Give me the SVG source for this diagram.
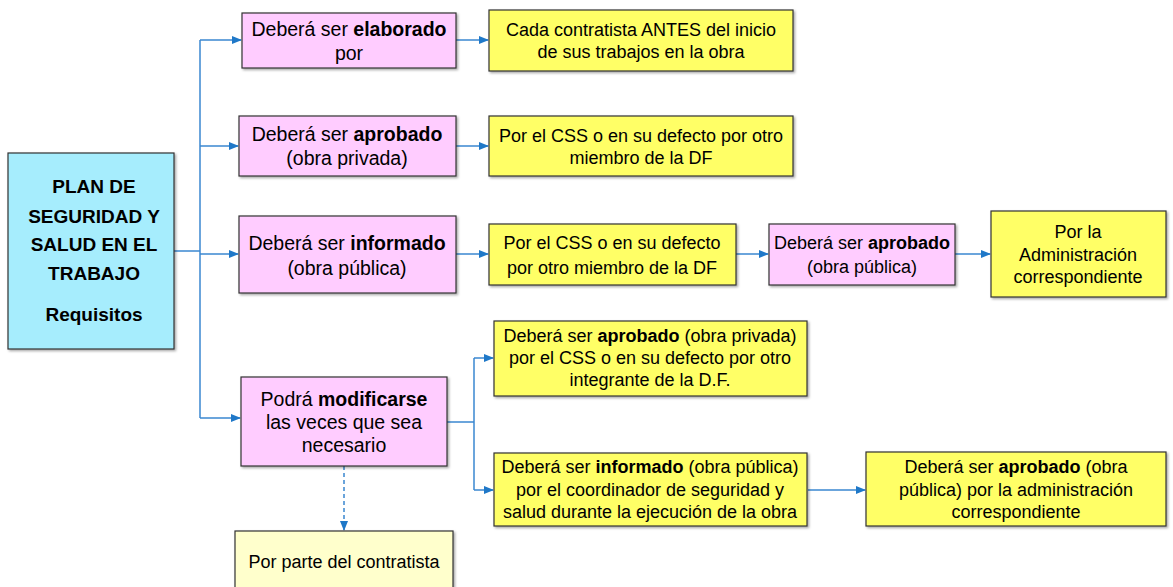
<svg xmlns="http://www.w3.org/2000/svg" width="1173" height="587" viewBox="0 0 1173 587">
<style>
text{font-family:"Liberation Sans",Arial,sans-serif;fill:#000;text-anchor:middle}
.tm{font-size:19px;font-weight:bold}
.t17{font-size:19.5px}
.t16{font-size:18px}
.b{font-weight:bold}
.box{stroke:#333;stroke-width:1.2}
.pink{fill:#FFCCFF}
.yel{fill:#FFFF66}
.cyan{fill:#A6EDFD}
.ly{fill:#FFFFCC}
.c{fill:none;stroke:#3A87D0;stroke-width:1.5}
.d{stroke-dasharray:4 3}
</style>
<defs>
<marker id="ah" markerWidth="10" markerHeight="8" refX="9" refY="4" orient="auto" markerUnits="userSpaceOnUse">
<path d="M0,0 L10,4 L0,8 z" fill="#1F78C8"/>
</marker>
<filter id="sh" x="-5%" y="-5%" width="110%" height="115%">
<feDropShadow dx="1.5" dy="1.5" stdDeviation="0.8" flood-color="#000" flood-opacity="0.35"/>
</filter>
</defs>
<g id="connectors">
<path class="c" d="M174,251 H200"/>
<path class="c" d="M200,40 V418"/>
<path class="c" d="M200,40 H241" marker-end="url(#ah)"/>
<path class="c" d="M200,146 H238" marker-end="url(#ah)"/>
<path class="c" d="M200,254 H238" marker-end="url(#ah)"/>
<path class="c" d="M200,418 H240" marker-end="url(#ah)"/>
<path class="c" d="M456,40 H488" marker-end="url(#ah)"/>
<path class="c" d="M456,146 H488" marker-end="url(#ah)"/>
<path class="c" d="M456,254 H488" marker-end="url(#ah)"/>
<path class="c" d="M736,254 H768" marker-end="url(#ah)"/>
<path class="c" d="M955,254 H990" marker-end="url(#ah)"/>
<path class="c" d="M447,422 H474"/>
<path class="c" d="M474,358 V490"/>
<path class="c" d="M474,358 H493" marker-end="url(#ah)"/>
<path class="c" d="M474,490 H493" marker-end="url(#ah)"/>
<path class="c" d="M808,490 H865" marker-end="url(#ah)"/>
<path class="c d" d="M344,466 V530" marker-end="url(#ah)"/>
</g>
<g id="main">
<rect class="box cyan" x="8" y="153" width="166" height="196" filter="url(#sh)"/>
<text class="tm" x="94" y="193">PLAN DE</text>
<text class="tm" x="94" y="222.5">SEGURIDAD Y</text>
<text class="tm" x="94" y="251">SALUD EN EL</text>
<text class="tm" x="94" y="280">TRABAJO</text>
<text class="tm" x="94" y="321">Requisitos</text>
</g>
<g id="elaborado">
<rect class="box pink" x="242" y="13" width="214" height="55" filter="url(#sh)"/>
<text class="t17" x="349" y="36">Deberá ser <tspan class="b">elaborado</tspan></text>
<text class="t17" x="349" y="60">por</text>
</g>
<g id="aprobado-privada">
<rect class="box pink" x="239" y="116" width="217" height="60" filter="url(#sh)"/>
<text class="t17" x="347" y="141">Deberá ser <tspan class="b">aprobado</tspan></text>
<text class="t17" x="347" y="165">(obra privada)</text>
</g>
<g id="informado-publica">
<rect class="box pink" x="239" y="216" width="217" height="77" filter="url(#sh)"/>
<text class="t17" x="347" y="250">Deberá ser <tspan class="b">informado</tspan></text>
<text class="t17" x="347" y="275">(obra pública)</text>
</g>
<g id="modificarse">
<rect class="box pink" x="241" y="377" width="206" height="89" filter="url(#sh)"/>
<text class="t17" x="344" y="406">Podrá <tspan class="b">modificarse</tspan></text>
<text class="t17" x="344" y="429">las veces que sea</text>
<text class="t17" x="344" y="452">necesario</text>
</g>
<g id="cada-contratista">
<rect class="box yel" x="489" y="10" width="304" height="61" filter="url(#sh)"/>
<text class="t16" x="641" y="36">Cada contratista ANTES del inicio</text>
<text class="t16" x="641" y="58">de sus trabajos en la obra</text>
</g>
<g id="css-privada">
<rect class="box yel" x="489" y="116" width="304" height="60" filter="url(#sh)"/>
<text class="t16" x="641" y="142">Por el CSS o en su defecto por otro</text>
<text class="t16" x="641" y="164">miembro de la DF</text>
</g>
<g id="css-publica">
<rect class="box yel" x="489" y="224" width="247" height="61" filter="url(#sh)"/>
<text class="t16" x="612" y="249">Por el CSS o en su defecto</text>
<text class="t16" x="612" y="274">por otro miembro de la DF</text>
</g>
<g id="aprobado-publica">
<rect class="box pink" x="769" y="224" width="186" height="61" filter="url(#sh)"/>
<text class="t16" x="862" y="249">Deberá ser <tspan class="b">aprobado</tspan></text>
<text class="t16" x="862" y="273">(obra pública)</text>
</g>
<g id="administracion">
<rect class="box yel" x="991" y="211" width="175" height="86" filter="url(#sh)"/>
<text class="t16" x="1078" y="238">Por la</text>
<text class="t16" x="1078" y="261">Administración</text>
<text class="t16" x="1078" y="283">correspondiente</text>
</g>
<g id="mod-privada">
<rect class="box yel" x="494" y="321" width="313" height="75" filter="url(#sh)"/>
<text class="t16" x="650" y="342">Deberá ser <tspan class="b">aprobado</tspan> (obra privada)</text>
<text class="t16" x="650" y="364">por el CSS o en su defecto por otro</text>
<text class="t16" x="650" y="386">integrante de la D.F.</text>
</g>
<g id="mod-publica">
<rect class="box yel" x="494" y="453" width="313" height="73" filter="url(#sh)"/>
<text class="t16" x="650" y="473">Deberá ser <tspan class="b">informado</tspan> (obra pública)</text>
<text class="t16" x="650" y="496">por el coordinador de seguridad y</text>
<text class="t16" x="650" y="518">salud durante la ejecución de la obra</text>
</g>
<g id="mod-aprobado">
<rect class="box yel" x="866" y="452" width="300" height="74" filter="url(#sh)"/>
<text class="t16" x="1016" y="473">Deberá ser <tspan class="b">aprobado</tspan> (obra</text>
<text class="t16" x="1016" y="496">pública) por la administración</text>
<text class="t16" x="1016" y="518">correspondiente</text>
</g>
<g id="contratista">
<rect class="box ly" x="235" y="531" width="218" height="62" filter="url(#sh)"/>
<text class="t16" x="344" y="568">Por parte del contratista</text>
</g>
</svg>
